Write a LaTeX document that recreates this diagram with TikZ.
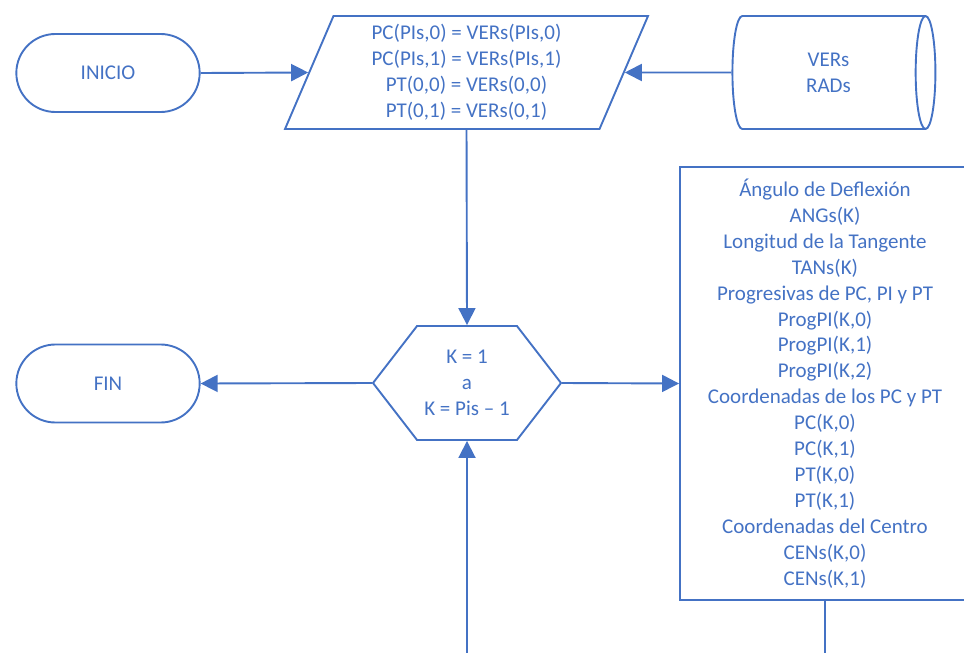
\documentclass[tikz,border=0pt]{standalone}
\usepackage{fontspec}
\setmainfont{Carlito}
\usepackage{tikz}
\usetikzlibrary{arrows.meta, positioning, shapes.geometric, shapes.misc, shapes.symbols}
\definecolor{flujo}{HTML}{4472C4}
\tikzset{
	terminal/.style={draw=flujo, rounded rectangle, minimum width=190pt, minimum height=78pt},
	datosbox/.style={draw=flujo, trapezium, trapezium left angle=63.2, trapezium right angle=116.8, trapezium stretches body, minimum width=363pt, minimum height=113pt, inner sep=0pt},
	discobox/.style={draw=flujo, cylinder, aspect=0.5, minimum width=113pt, minimum height=203pt, inner sep=0pt},
	ciclobox/.style={draw=flujo, signal, signal to=west and east, signal pointer angle=104.6, minimum width=188pt, minimum height=114pt, inner sep=0pt},
	procbox/.style={draw=flujo, rectangle, minimum width=290pt, minimum height=433pt, inner sep=0pt},
	flecha/.style={-{Triangle[length=17pt, width=17pt]}},
}

\begin{document}
\begin{tikzpicture}[
		x=1pt, y=-1pt,
		every node/.style={text=flujo, align=center, font=\fontsize{21}{25.9}\selectfont},
		line width=1.9pt, draw=flujo
	]
		\clip (0,0) rectangle (964,653);

		% Inicio y lectura de datos
		\node[terminal] (inicio) at (108,73) {INICIO};
		\node[datosbox] (datos) at (466.5,72.5) {PC(PIs,0) = VERs(PIs,0)\\PC(PIs,1) = VERs(PIs,1)\\PT(0,0) = VERs(0,0)\\PT(0,1) = VERs(0,1)};
		\node[discobox] (disco) at (828.5,72.5) {VERs\\RADs};

		% Ciclo sobre los PI
		\node[ciclobox] (ciclo) at (467,383) {K = 1\\a\\K = Pis – 1};
		\node[terminal] (fin) at (108,383.5) {FIN};

		% Calculo de la curva
		\node[procbox] (curva) at (825,383.5) {Ángulo de Deflexión\\ANGs(K)\\Longitud de la Tangente\\TANs(K)\\Progresivas de PC, PI y PT\\ProgPI(K,0)\\ProgPI(K,1)\\ProgPI(K,2)\\Coordenadas de los PC y PT\\PC(K,0)\\PC(K,1)\\PT(K,0)\\PT(K,1)\\Coordenadas del Centro\\CENs(K,0)\\CENs(K,1)};

		% Retorno del ciclo
		\coordinate (salida) at (825,660);
		\coordinate (retorno) at (467,660);

		% Flechas
		\draw[flecha, flujo] (inicio.east) -- (datos.west);
		\draw[flecha, flujo] (disco.west) -- (datos.east);
		\draw[flecha, flujo] (datos.south) -- (ciclo.north);
		\draw[flecha, flujo] (ciclo.west) -- (fin.east);
		\draw[flecha, flujo] (ciclo.east) -- (curva.west);
		\draw[flujo] (curva.south) -- (salida);
		\draw[flecha, flujo] (retorno) -- (ciclo.south);
	\end{tikzpicture}
\end{document}
